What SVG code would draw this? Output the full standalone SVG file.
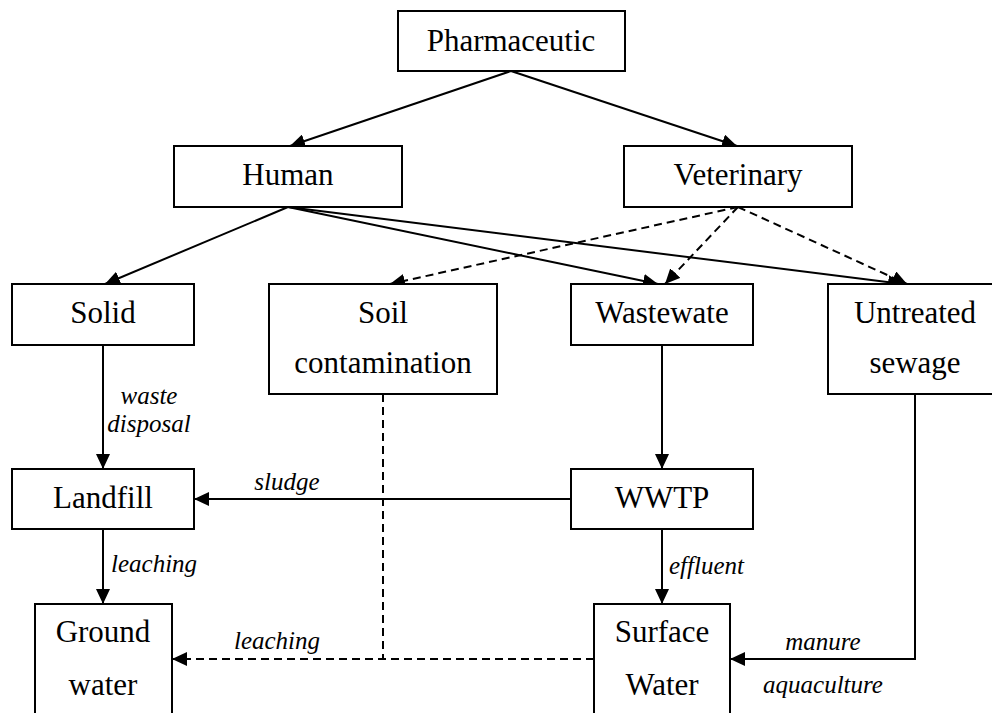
<svg xmlns="http://www.w3.org/2000/svg" width="992" height="713" viewBox="0 0 992 713">
<style>
.box{fill:#fff;stroke:#000;stroke-width:2}
.t{font-family:"Liberation Serif","Times New Roman",serif;font-size:31px;text-anchor:middle;fill:#000}
.l{font-family:"Liberation Serif","Times New Roman",serif;font-size:25px;font-style:italic;fill:#000}
.c{fill:none;stroke:#000;stroke-width:2}
.d{stroke-dasharray:8 5}
</style>
<defs>
<marker id="ah" markerUnits="userSpaceOnUse" markerWidth="16" markerHeight="14" refX="15" refY="7" orient="auto">
<path d="M0,0 L15,7 L0,14 z" fill="#000"/>
</marker>
</defs>
<rect width="992" height="713" fill="#fff"/>
<g id="connectors">
<line class="c" x1="511" y1="71" x2="290" y2="146" marker-end="url(#ah)"/>
<line class="c" x1="511" y1="71" x2="737" y2="146" marker-end="url(#ah)"/>
<line class="c" x1="288" y1="207" x2="105" y2="284" marker-end="url(#ah)"/>
<line class="c" x1="288" y1="207" x2="658" y2="284" marker-end="url(#ah)"/>
<line class="c" x1="288" y1="207" x2="903" y2="284" marker-end="url(#ah)"/>
<line class="c d" x1="738" y1="207" x2="390" y2="284" marker-end="url(#ah)"/>
<line class="c d" x1="738" y1="207" x2="665" y2="284" marker-end="url(#ah)"/>
<line class="c d" x1="738" y1="207" x2="907" y2="284" marker-end="url(#ah)"/>
<line class="c" x1="103" y1="345" x2="103" y2="469" marker-end="url(#ah)"/>
<line class="c" x1="571" y1="499" x2="194" y2="499" marker-end="url(#ah)"/>
<line class="c" x1="103" y1="529" x2="103" y2="604" marker-end="url(#ah)"/>
<line class="c" x1="662" y1="345" x2="662" y2="469" marker-end="url(#ah)"/>
<line class="c" x1="662" y1="529" x2="662" y2="604" marker-end="url(#ah)"/>
<line class="c d" x1="383" y1="394" x2="383" y2="659"/>
<line class="c d" x1="594" y1="659" x2="172" y2="659" marker-end="url(#ah)"/>
<polyline class="c" points="915,394 915,659 730,659" marker-end="url(#ah)"/>
<text class="l" x="149" y="404" text-anchor="middle">waste</text>
<text class="l" x="149" y="432" text-anchor="middle">disposal</text>
<text class="l" x="287" y="490" text-anchor="middle">sludge</text>
<text class="l" x="111" y="572">leaching</text>
<text class="l" x="277" y="649" text-anchor="middle">leaching</text>
<text class="l" x="669" y="574">effluent</text>
<text class="l" x="823" y="650" text-anchor="middle">manure</text>
<text class="l" x="823" y="693" text-anchor="middle">aquaculture</text>
</g>
<g id="pharmaceutic"><rect class="box" x="398" y="11" width="227" height="60"/><text class="t" x="511" y="51">Pharmaceutic</text></g>
<g id="human"><rect class="box" x="174" y="146" width="228" height="61"/><text class="t" x="288" y="185">Human</text></g>
<g id="veterinary"><rect class="box" x="624" y="146" width="228" height="61"/><text class="t" x="738" y="185">Veterinary</text></g>
<g id="solid"><rect class="box" x="12" y="284" width="182" height="61"/><text class="t" x="103" y="323">Solid</text></g>
<g id="soil"><rect class="box" x="269" y="284" width="228" height="110"/><text class="t" x="383" y="323">Soil</text><text class="t" x="383" y="373">contamination</text></g>
<g id="wastewater"><rect class="box" x="571" y="284" width="182" height="61"/><text class="t" x="662" y="323">Wastewate</text></g>
<g id="untreated"><rect class="box" x="828" y="284" width="180" height="110"/><text class="t" x="915" y="323">Untreated</text><text class="t" x="915" y="373">sewage</text></g>
<g id="landfill"><rect class="box" x="12" y="469" width="182" height="60"/><text class="t" x="103" y="508">Landfill</text></g>
<g id="wwtp"><rect class="box" x="571" y="469" width="182" height="60"/><text class="t" x="662" y="508">WWTP</text></g>
<g id="groundwater"><rect class="box" x="35" y="604" width="137" height="130"/><text class="t" x="103" y="642">Ground</text><text class="t" x="103" y="695">water</text></g>
<g id="surfacewater"><rect class="box" x="594" y="604" width="136" height="130"/><text class="t" x="662" y="642">Surface</text><text class="t" x="662" y="695">Water</text></g>
</svg>
